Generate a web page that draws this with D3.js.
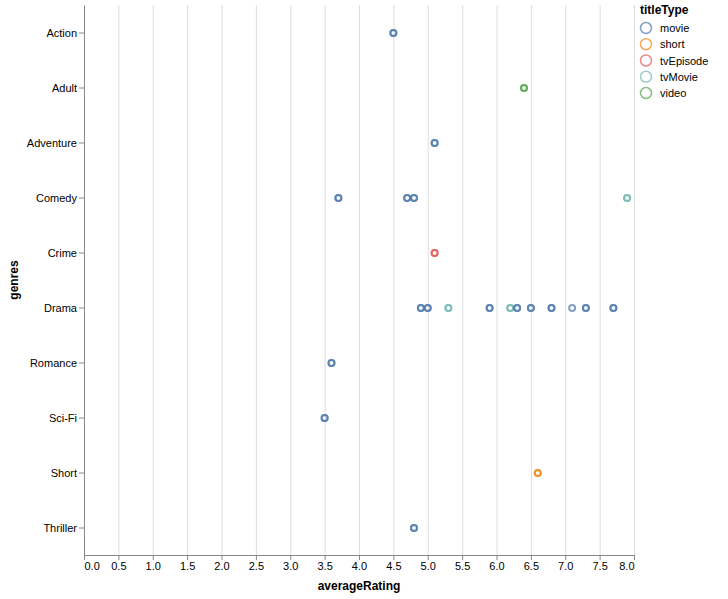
<!DOCTYPE html>
<html>
<head>
<meta charset="utf-8">
<script src="https://cdn.jsdelivr.net/npm/d3@7"></script>
<style>
    body { margin: 0; background: #fff; }
    text { font-family: "Liberation Sans", Arial, sans-serif; }
</style>
</head>
<body>
<svg id="chart" width="728" height="599"></svg>
<script>
// genres shown on the y axis (top to bottom)
var genres = ["Action", "Adult", "Adventure", "Comedy", "Crime", "Drama", "Romance", "Sci-Fi", "Short", "Thriller"];
var titleTypes = ["movie", "short", "tvEpisode", "tvMovie", "video"];
var typeColors = ["#4c78a8", "#f58518", "#e45756", "#72b7b2", "#54a24b"];
var xTicks = [0, 0.5, 1, 1.5, 2, 2.5, 3, 3.5, 4, 4.5, 5, 5.5, 6, 6.5, 7, 7.5, 8];

// one entry per title (darker dots in the picture are overlapping titles)
var recGenre  = ["Action", "Action", "Adult", "Adult", "Adventure", "Adventure",
                 "Comedy", "Comedy", "Comedy", "Comedy", "Comedy", "Comedy", "Comedy", "Comedy",
                 "Crime", "Crime",
                 "Drama", "Drama", "Drama", "Drama", "Drama", "Drama", "Drama", "Drama",
                 "Drama", "Drama", "Drama", "Drama", "Drama", "Drama", "Drama", "Drama",
                 "Drama", "Drama", "Drama", "Drama", "Drama",
                 "Romance", "Romance", "Sci-Fi", "Sci-Fi", "Short", "Short", "Thriller", "Thriller"];
var recRating = [4.5, 4.5, 6.4, 6.4, 5.1, 5.1,
                 3.7, 3.7, 4.7, 4.7, 4.8, 4.8, 7.9, 7.9,
                 5.1, 5.1,
                 4.9, 4.9, 5.0, 5.0, 5.3, 5.3, 5.9, 5.9, 6.2, 6.2, 6.3, 6.3,
                 6.5, 6.5, 6.8, 6.8, 7.1, 7.3, 7.3, 7.7, 7.7,
                 3.6, 3.6, 3.5, 3.5, 6.6, 6.6, 4.8, 4.8];
var recType   = ["movie", "movie", "video", "video", "movie", "movie",
                 "movie", "movie", "movie", "movie", "movie", "movie", "tvMovie", "tvMovie",
                 "tvEpisode", "tvEpisode",
                 "movie", "movie", "movie", "movie", "tvMovie", "tvMovie", "movie", "movie",
                 "tvMovie", "tvMovie", "movie", "movie",
                 "movie", "movie", "movie", "movie", "movie", "movie", "movie", "movie", "movie",
                 "movie", "movie", "movie", "movie", "short", "short", "movie", "movie"];

var svg = d3.select("#chart");
var marginLeft = 84, marginTop = 5, plotWidth = 550, plotHeight = 550;

var g = svg.append("g").attr("transform", "translate(" + marginLeft + "," + marginTop + ")");

var xScale = d3.scaleLinear().domain([0, 8]).range([0, plotWidth]);
var yScale = d3.scalePoint().domain(genres).range([0, plotHeight]).padding(0.5);
var colorScale = d3.scaleOrdinal().domain(titleTypes).range(typeColors);

// vertical gridlines
g.append("g").selectAll("line")
    .data(xTicks)
    .enter()
    .append("line")
    .attr("x1", function (d) { return xScale(d) + 0.5; })
    .attr("x2", function (d) { return xScale(d) + 0.5; })
    .attr("y1", 0)
    .attr("y2", plotHeight)
    .attr("stroke", "#ddd")
    .attr("stroke-width", 1);

// x axis
var xAxis = d3.axisBottom(xScale).tickValues(xTicks).tickFormat(d3.format(".1f"))
    .tickSize(5).tickSizeOuter(0).tickPadding(2);
var xg = g.append("g").attr("transform", "translate(0," + plotHeight + ")").call(xAxis);
xg.select(".domain").attr("stroke", "#888");
xg.selectAll(".tick line").attr("stroke", "#888");
xg.selectAll("text").attr("font-size", 11).attr("fill", "#000")
    .attr("text-anchor", function (d, i) {
        return i === 0 ? "start" : (i === xTicks.length - 1 ? "end" : "middle");
    });

// y axis
var yAxis = d3.axisLeft(yScale).tickSize(5).tickSizeOuter(0).tickPadding(2);
var yg = g.append("g").call(yAxis);
yg.select(".domain").attr("stroke", "#888");
yg.selectAll(".tick line").attr("stroke", "#888");
yg.selectAll("text").attr("font-size", 11).attr("fill", "#000").attr("dy", "0.4em");

// axis titles
g.append("text")
    .attr("x", plotWidth / 2)
    .attr("y", plotHeight + 35)
    .attr("text-anchor", "middle")
    .attr("font-size", 12)
    .attr("font-weight", "bold")
    .text("averageRating");

g.append("text")
    .attr("transform", "translate(-66," + (plotHeight / 2) + ") rotate(-90)")
    .attr("text-anchor", "middle")
    .attr("font-size", 12)
    .attr("font-weight", "bold")
    .text("genres");

// points
var records = recGenre.map(function (d, i) {
    return { genre: d, rating: recRating[i], type: recType[i] };
});

g.append("g").selectAll("circle")
    .data(records)
    .enter()
    .append("circle")
    .attr("cx", function (d) { return xScale(d.rating); })
    .attr("cy", function (d) { return yScale(d.genre) + 0.5; })
    .attr("r", 3)
    .attr("fill", "none")
    .attr("stroke", function (d) { return colorScale(d.type); })
    .attr("stroke-width", 2)
    .attr("opacity", 0.7);

// legend
var legend = svg.append("g").attr("transform", "translate(640,0)");
legend.append("text")
    .attr("x", 0)
    .attr("y", 14)
    .attr("font-size", 12)
    .attr("font-weight", "bold")
    .text("titleType");

var items = legend.selectAll(".item")
    .data(titleTypes)
    .enter()
    .append("g")
    .attr("class", "item")
    .attr("transform", function (d, i) { return "translate(0," + (28 + i * 16.25) + ")"; });

items.append("circle")
    .attr("cx", 6)
    .attr("cy", 0)
    .attr("r", 5.5)
    .attr("fill", "none")
    .attr("stroke", function (d) { return colorScale(d); })
    .attr("stroke-width", 1.5)
    .attr("opacity", 0.7);

items.append("text")
    .attr("x", 20)
    .attr("y", 4)
    .attr("font-size", 11)
    .text(function (d) { return d; });
</script>
</body>
</html>
